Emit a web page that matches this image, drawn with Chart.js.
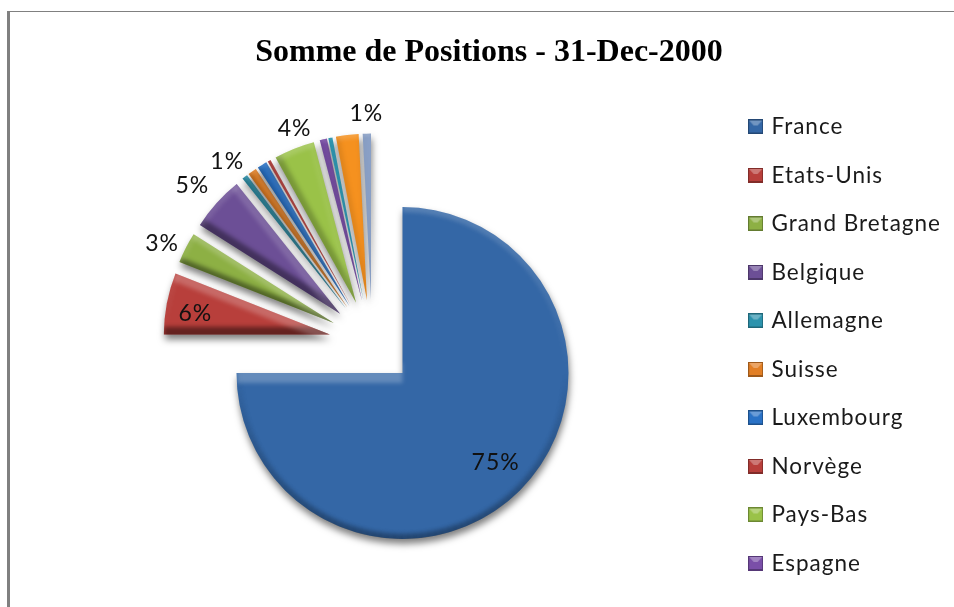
<!DOCTYPE html>
<html>
<head>
<meta charset="utf-8">
<style>
  html, body { margin: 0; padding: 0; background: #fff; overflow: hidden; }
  #wrap { position: relative; width: 954px; height: 607px; }
  #top-line { position: absolute; left: 7px; top: 11px; right: 0; height: 1px; background: #808080; }
  #left-line { position: absolute; left: 7px; top: 11px; bottom: 0; width: 3px; background: #808080; }
  canvas { position: absolute; left: 0; top: 0; }
</style>
<script src="https://cdn.jsdelivr.net/npm/chart.js@4"></script>
</head>
<body>
<div id="wrap">
  <div id="top-line"></div>
  <div id="left-line"></div>
  <canvas id="chart" width="954" height="607"></canvas>
</div>
<script>
const chartTitle = '\u00a0Somme de Positions - 31-Dec-2000';
const countries = ['France', 'Etats-Unis', 'Grand Bretagne', 'Belgique', 'Allemagne', 'Suisse', 'Luxembourg', 'Norvège', 'Pays-Bas', 'Espagne', '', '', ''];
const shares = [75, 6, 3, 5.3, 0.55, 0.85, 0.95, 0.3, 3.95, 0.7, 0.4, 2.2, 0.8];
const shownLabels = ['75%', '6%', '3%', '5%', '1%', '', '', '', '4%', '', '', '', '1%'];

// styling only
const sliceColors = ['#3467a6', '#b83f3b', '#8db044', '#6c4f96', '#2c93ad', '#e27f25', '#2a72c6', '#b83f3b', '#9ac248', '#7a4fa8', '#2c9ab6', '#f5911f', '#8aa0c6'];
const labelRadius = [0.78, 0.82, 1.14, 1.18, 1.14, 0, 0, 0, 1.11, 0, 0, 0, 1.12];
const labelTurn = [-1, -1.8, -2.1, -0.9, -1.3, 0, 0, 0, 2.4, 0, 0, 0, 0];
const EXPLODE = 43, RADIUS = 166, LEGEND_COUNT = 10;

function shade(hex, k) {
  const n = parseInt(hex.slice(1), 16);
  const c = [n >> 16, (n >> 8) & 255, n & 255].map(v => Math.round(k < 0 ? v * (1 + k) : v + (255 - v) * k));
  return `rgb(${c[0]},${c[1]},${c[2]})`;
}

function makeSwatch(color) {
  const c = document.createElement('canvas');
  c.width = 15; c.height = 15;
  const g = c.getContext('2d');
  g.fillStyle = shade(color, -0.3);
  g.fillRect(0, 0, 15, 15);
  g.fillStyle = color;
  g.fillRect(1, 1, 13, 12);
  g.fillStyle = shade(color, 0.3);
  g.beginPath(); g.moveTo(1, 1); g.lineTo(14, 1); g.lineTo(9.5, 6); g.lineTo(5.5, 6); g.closePath(); g.fill();
  return c;
}

function arcGeometry(arc) {
  const mid = (arc.startAngle + arc.endAngle) / 2;
  return { dx: Math.cos(mid) * EXPLODE, dy: Math.sin(mid) * EXPLODE, mid };
}

// edges that face up catch the light, edges that face down go dark
function addBevel(ctx, arc) {
  const sweep = arc.circumference;
  const edgeWidth = Math.min(20, 3 + RADIUS * sweep * 0.2);
  const rimWidth = Math.min(10, edgeWidth);
  const steps = Math.max(4, Math.round(sweep * 24));
  const pts = [[arc.x, arc.y]];
  for (let i = 0; i <= steps; i++) {
    const a = arc.startAngle + sweep * i / steps;
    pts.push([arc.x + Math.cos(a) * RADIUS, arc.y + Math.sin(a) * RADIUS]);
  }
  pts.push([arc.x, arc.y]);
  ctx.save();
  ctx.beginPath();
  pts.forEach((p, i) => i ? ctx.lineTo(p[0], p[1]) : ctx.moveTo(p[0], p[1]));
  ctx.clip();
  ctx.filter = 'blur(2px)';
  ctx.lineCap = 'butt';
  for (let i = 0; i < pts.length - 1; i++) {
    const straight = i === 0 || i === pts.length - 2;
    const ex = pts[i + 1][0] - pts[i][0], ey = pts[i + 1][1] - pts[i][1];
    const up = ex / Math.hypot(ex, ey); // outward normal is (ey, -ex), so this is how much it points up
    const k = straight ? 1 : 0.75;
    ctx.lineWidth = straight ? edgeWidth : rimWidth;
    ctx.strokeStyle = up > 0 ? `rgba(255,255,255,${0.24 * up * k})` : `rgba(0,0,0,${0.45 * -up * k})`;
    ctx.beginPath();
    ctx.moveTo(pts[i][0], pts[i][1]);
    ctx.lineTo(pts[i + 1][0], pts[i + 1][1]);
    ctx.stroke();
  }
  ctx.restore();
}

const textSpacing = {
  id: 'textSpacing',
  // the canvas is reset when Chart.js sizes it, so the spacing goes on here
  beforeUpdate(chart) { chart.ctx.letterSpacing = '1px'; },
  // only the title stays tight
  beforeDraw(chart) {
    const block = chart.titleBlock, draw = block.draw;
    block.draw = function () {
      chart.ctx.letterSpacing = '0px';
      draw.call(block);
      chart.ctx.letterSpacing = '1px';
      block.draw = draw;
    };
  }
};

// every slice pulled out of the pie by the same distance, shadow and bevel on top
const explodedSlices = {
  id: 'explodedSlices',
  beforeDatasetDraw(chart) {
    const ctx = chart.ctx;
    chart.getDatasetMeta(0).data.forEach(arc => {
      const { dx, dy } = arcGeometry(arc);
      ctx.save();
      ctx.translate(dx, dy);
      ctx.shadowColor = 'rgba(0,0,0,0.5)';
      ctx.shadowBlur = 7;
      ctx.shadowOffsetY = 5;
      ctx.shadowOffsetX = 1;
      arc.draw(ctx);
      ctx.shadowColor = 'transparent';
      addBevel(ctx, arc);
      ctx.restore();
    });
    return false;
  }
};

const sliceLabels = {
  id: 'sliceLabels',
  afterDraw(chart) {
    const ctx = chart.ctx;
    ctx.save();
    ctx.font = '23px Lato';
    ctx.fillStyle = '#111';
    ctx.textAlign = 'center';
    ctx.textBaseline = 'middle';
    chart.getDatasetMeta(0).data.forEach((arc, i) => {
      if (!shownLabels[i]) return;
      const { dx, dy, mid } = arcGeometry(arc);
      const r = RADIUS * labelRadius[i];
      const a = mid + labelTurn[i] * Math.PI / 180;
      ctx.fillText(shownLabels[i], arc.x + dx + Math.cos(a) * r, arc.y + dy + Math.sin(a) * r);
    });
    ctx.restore();
  }
};

new Chart(document.getElementById('chart'), {
  type: 'pie',
  data: {
    labels: countries,
    datasets: [{
      data: shares,
      backgroundColor: sliceColors,
      borderWidth: 0,
      radius: RADIUS
    }]
  },
  plugins: [textSpacing, explodedSlices, sliceLabels],
  options: {
    responsive: false,
    animation: false,
    layout: { padding: { left: 19, right: 3, top: 0, bottom: 6 } },
    plugins: {
      tooltip: { enabled: false },
      title: {
        display: true,
        text: chartTitle,
        color: '#000',
        font: { family: '"Liberation Serif"', size: 32, weight: 'bold', lineHeight: 1.2 },
        padding: { top: 34, bottom: 11.8 }
      },
      legend: {
        position: 'right',
        align: 'start',
        fullSize: false,
        title: { display: true, text: '', font: { size: 1, lineHeight: 1 }, padding: { top: 4.5, bottom: 0 } },
        labels: {
          color: '#1a1a1a',
          font: { family: 'Lato', size: 22.5 },
          padding: 26,
          usePointStyle: true,
          pointStyleWidth: 9,
          generateLabels() {
            return countries.slice(0, LEGEND_COUNT).map((name, i) => ({
              text: name,
              fontColor: '#1a1a1a',
              fillStyle: sliceColors[i],
              lineWidth: 0,
              pointStyle: makeSwatch(sliceColors[i]),
              index: i
            }));
          }
        }
      }
    }
  }
});
</script>
</body>
</html>
